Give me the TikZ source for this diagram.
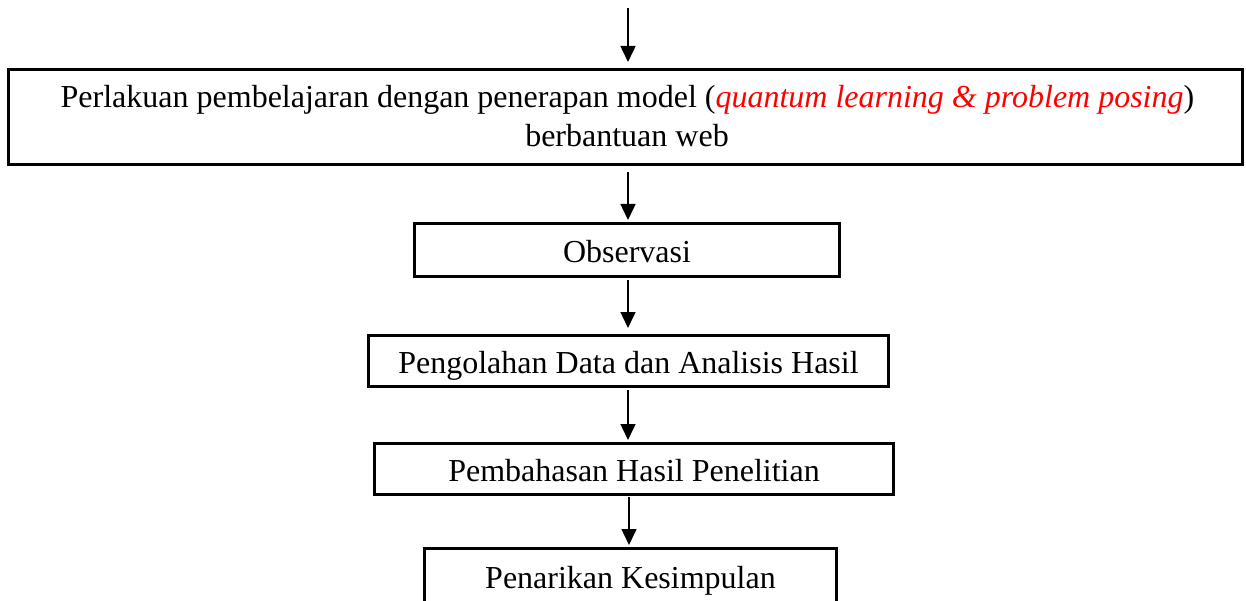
\documentclass[tikz,border=0pt]{standalone}
\usepackage{fontspec}
\setmainfont{Liberation Serif}
\usetikzlibrary{arrows.meta}
\definecolor{kwred}{RGB}{255,0,0}
\begin{document}
\begin{tikzpicture}[x=1pt,y=-1pt,
  box/.style={draw, line width=3pt, inner sep=0pt, text height=25pt, text depth=0pt,
              font=\fontsize{32}{39}\selectfont},
  txt/.style={inner sep=0pt, anchor=base, font=\fontsize{32}{39}\selectfont},
  conn/.style={line width=1.5pt, -{Triangle[length=16pt,width=15pt]}}]
\useasboundingbox (0,0) rectangle (1246,601);

\coordinate (top) at (628,8);

\node[box, minimum width=1234pt, minimum height=95pt] (b1) at (625.5,117) {};
\node[txt] (b1l1) at (627.5,108) {Perlakuan pembelajaran dengan penerapan model (\textcolor{kwred}{\textit{quantum learning \& problem posing}})};
\node[txt] (b1l2) at (627,147) {berbantuan web};

\node[box, minimum width=425pt, minimum height=53pt] (obs) at (627,250) {Observasi};
\node[box, minimum width=520pt, minimum height=51pt] (olah) at (628.5,361) {Pengolahan Data dan Analisis Hasil};
\node[box, minimum width=519pt, minimum height=51pt] (bahas) at (634,469) {Pembahasan Hasil Penelitian};
\node[box, minimum width=412pt, minimum height=54pt] (simpul) at (630.5,575.5) {Penarikan Kesimpulan};

\draw[conn, shorten >=6pt] (top) -- (b1.north -| top);
\draw[conn, shorten <=6pt, shorten >=2pt] (b1.south -| top) -- (obs.north -| top);
\draw[conn, shorten <=2pt, shorten >=6pt] (obs.south -| top) -- (olah.north -| top);
\draw[conn, shorten <=2pt, shorten >=2pt] (olah.south -| top) -- (bahas.north -| top);
\draw[conn, shorten <=1pt, shorten >=2pt] ([xshift=1pt]bahas.south -| top) -- ([xshift=1pt]simpul.north -| top);
\end{tikzpicture}
\end{document}
